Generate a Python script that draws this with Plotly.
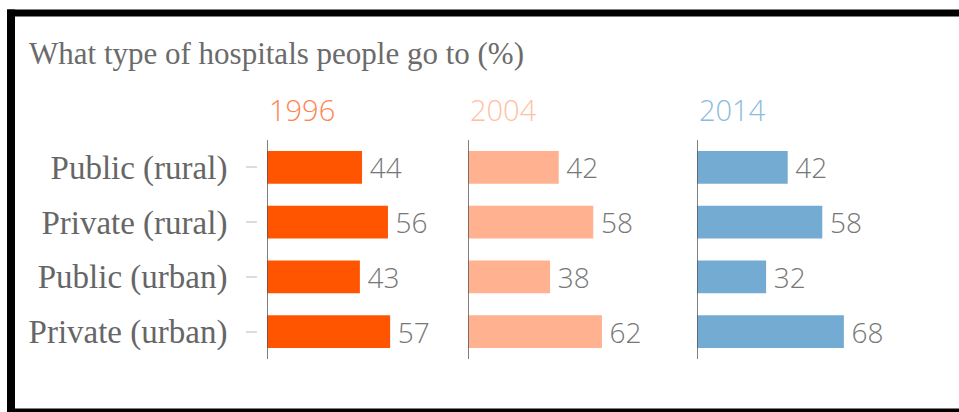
import plotly.graph_objects as go

# Share of people using each type of hospital (%)
categories = ["Public (rural)", "Private (rural)", "Public (urban)", "Private (urban)"]
years = ["1996", "2004", "2014"]
values_1996 = [44, 56, 43, 57]
values_2004 = [42, 58, 38, 62]
values_2014 = [42, 58, 32, 68]

bar_colors = ["#ff5500", "#ffb190", "#74abd2"]
year_colors = ["#ff8552", "#ffbfa3", "#8cbcdc"]

W, H = 959, 412
X_MAX = 85
PX_PER_UNIT = 2.16
panel_left_px = [267, 468, 697]


def px_x(p):
    return p / W


def px_y(p):
    return 1 - p / H


fig = go.Figure()
series = [values_1996, values_2004, values_2014]
xaxis_ids = ["x", "x2", "x3"]

for vals, color, xid in zip(series, bar_colors, xaxis_ids):
    fig.add_trace(go.Bar(
        x=vals,
        y=list(range(len(categories))),
        orientation="h",
        width=0.6,
        marker=dict(color=color, line=dict(width=0)),
        texttemplate="\u2009%{x}",
        textposition="outside",
        constraintext="none",
        cliponaxis=False,
        textfont=dict(family="Open Sans", size=28, color="#777777", weight=300),
        xaxis=xid,
        yaxis="y",
        hoverinfo="skip",
        showlegend=False,
    ))

layout_axes = {}
for i, (left, xid) in enumerate(zip(panel_left_px, xaxis_ids)):
    name = "xaxis" if i == 0 else f"xaxis{i + 1}"
    layout_axes[name] = dict(
        domain=[px_x(left), px_x(left + PX_PER_UNIT * X_MAX)],
        range=[0, X_MAX],
        anchor="y",
        showticklabels=False,
        showgrid=False,
        zeroline=False,
        showline=False,
        ticks="",
        fixedrange=True,
    )

fig.update_layout(
    **layout_axes,
    yaxis=dict(
        domain=[px_y(359), px_y(140)],
        range=[3.5, -0.5],
        tickvals=list(range(len(categories))),
        ticktext=categories,
        anchor="free",
        position=px_x(257),
        ticks="outside",
        ticklen=11,
        tickwidth=1.5,
        tickcolor="#dcdcdc",
        ticklabelstandoff=12,
        tickfont=dict(family="Liberation Serif", size=33, color="#666666"),
        showgrid=False,
        zeroline=False,
        showline=False,
        fixedrange=True,
    ),
    width=W,
    height=H,
    margin=dict(l=0, r=0, t=0, b=0),
    paper_bgcolor="white",
    plot_bgcolor="white",
    bargap=0.4,
)

shapes = []
# vertical baseline of each panel at zero
for xid in xaxis_ids:
    shapes.append(dict(
        type="line", xref=xid, yref="y domain",
        x0=0, x1=0, y0=0, y1=1,
        line=dict(color="#555555", width=1.5),
    ))
# black frame on the left, top and bottom
frame = dict(type="rect", xref="paper", yref="paper",
             fillcolor="black", line=dict(width=0), layer="above")
shapes.append(dict(frame, x0=px_x(7), x1=1.02, y0=px_y(16.5), y1=px_y(9.5)))
shapes.append(dict(frame, x0=px_x(7), x1=px_x(15), y0=-0.02, y1=px_y(9.5)))
shapes.append(dict(frame, x0=px_x(7), x1=1.02, y0=-0.02, y1=px_y(408.5)))
fig.update_layout(shapes=shapes)

annotations = [dict(
    text="What type of hospitals people go to (%)",
    xref="paper", yref="paper",
    x=px_x(27), y=px_y(54),
    xanchor="left", yanchor="middle",
    showarrow=False,
    font=dict(family="Liberation Serif", size=31, color="#6b6b6b"),
)]
for year, color, xid in zip(years, year_colors, xaxis_ids):
    annotations.append(dict(
        text=year,
        xref=xid, yref="paper",
        x=0, y=px_y(109),
        xanchor="left", yanchor="middle",
        showarrow=False,
        font=dict(family="Open Sans", size=29, color=color, weight=300),
    ))
fig.update_layout(annotations=annotations)

fig.write_html("out.html", config=dict(displayModeBar=False))
